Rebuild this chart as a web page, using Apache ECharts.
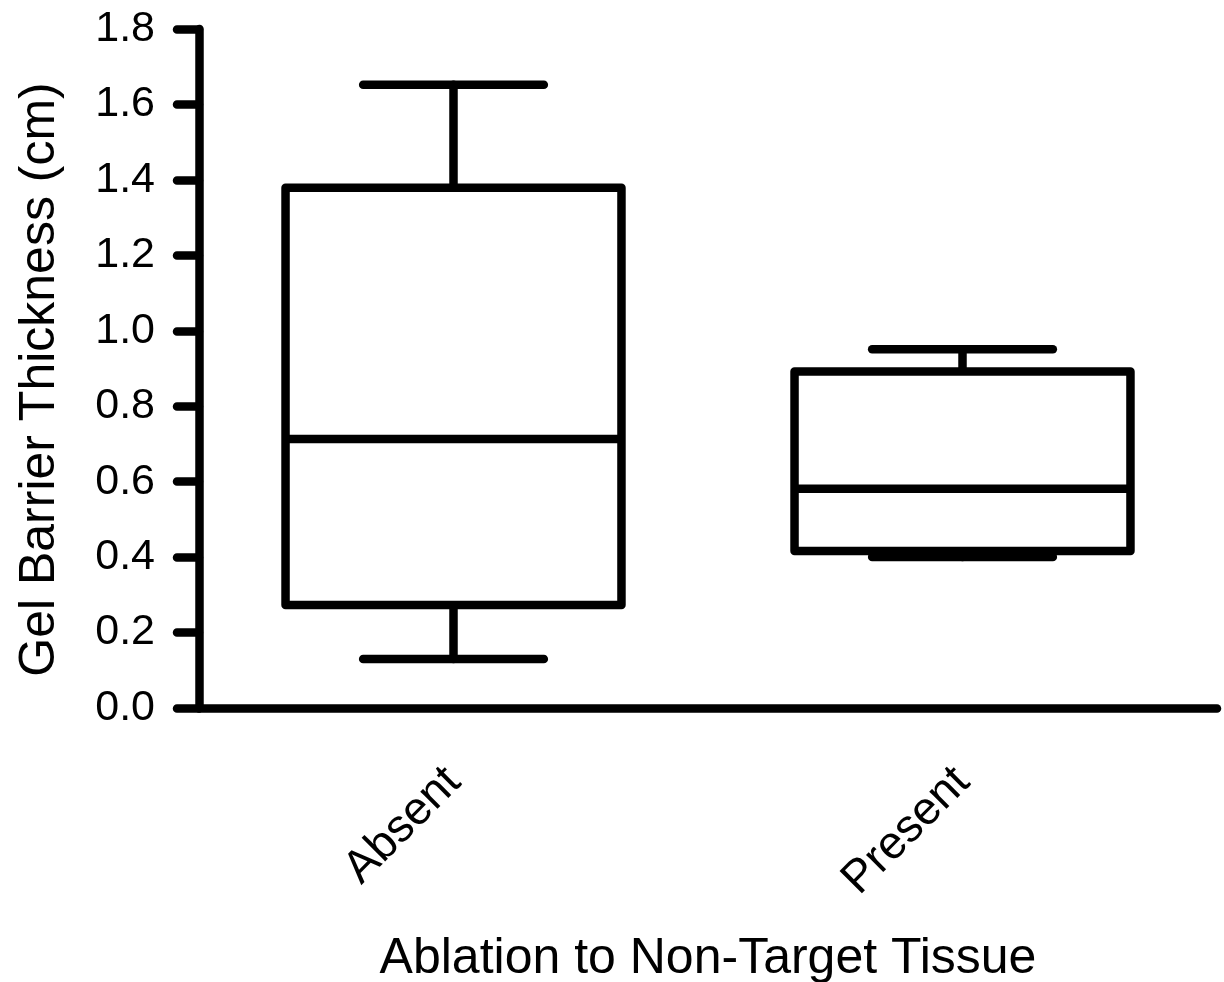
<!DOCTYPE HTML>
<html>
<head>
    <title>Gel Barrier Thickness</title>
    <meta http-equiv="Content-Type" content="text/html; charset=UTF-8"/>
    <script type="text/javascript" src="https://cdn.jsdelivr.net/npm/echarts@6/dist/echarts.min.js"></script>
    <style type="text/css">
        html, body { margin: 0; padding: 0; background: #fff; }
    </style>
</head>
<body>
<div id="main" style="width: 1224px; height: 982px;"></div>
</body>
</html>

<script type="text/javascript">
    // 数据
    var categories = ['Absent', 'Present'];
    var minVals = [0.130, 0.400];
    var q1Vals = [0.273, 0.416];
    var medianVals = [0.713, 0.581];
    var q3Vals = [1.379, 0.892];
    var maxVals = [1.652, 0.951];

    var font = 'Arial, "Liberation Sans", sans-serif';
    var lw = 8.5;

    var boxData = [];
    for (var i = 0; i < categories.length; i++) {
        boxData.push([i, minVals[i], q1Vals[i], medianVals[i], q3Vals[i], maxVals[i]]);
    }

    var myChart = echarts.init(document.getElementById('main'));

    function renderBox(params, api) {
        var idx = api.value(0);
        var band = api.size([1, 0])[0];
        var boxW = band * 0.66;
        var capW = band * 0.355;
        var pMin = api.coord([idx, api.value(1)]);
        var pQ1 = api.coord([idx, api.value(2)]);
        var pMed = api.coord([idx, api.value(3)]);
        var pQ3 = api.coord([idx, api.value(4)]);
        var pMax = api.coord([idx, api.value(5)]);
        var cx = pMed[0];
        var style = {stroke: '#000', lineWidth: lw, fill: null, lineCap: 'round', lineJoin: 'round'};
        return {
            type: 'group',
            children: [
                // 须线
                {type: 'line', shape: {x1: cx, y1: pQ3[1], x2: cx, y2: pMax[1]}, style: style},
                {type: 'line', shape: {x1: cx, y1: pQ1[1], x2: cx, y2: pMin[1]}, style: style},
                {type: 'line', shape: {x1: cx - capW / 2, y1: pMax[1], x2: cx + capW / 2, y2: pMax[1]}, style: style},
                {type: 'line', shape: {x1: cx - capW / 2, y1: pMin[1], x2: cx + capW / 2, y2: pMin[1]}, style: style},
                // 箱体
                {type: 'rect', shape: {x: cx - boxW / 2, y: pQ3[1], width: boxW, height: pQ1[1] - pQ3[1]},
                    style: {stroke: '#000', lineWidth: lw, fill: '#fff', lineJoin: 'round'}},
                // 中位数
                {type: 'line', shape: {x1: cx - boxW / 2, y1: pMed[1], x2: cx + boxW / 2, y2: pMed[1]},
                    style: {stroke: '#000', lineWidth: lw}}
            ]
        };
    }

    var option = {
        backgroundColor: '#fff',
        animation: false,
        grid: {left: 199, right: 7, top: 29, bottom: 274, containLabel: false, outerBoundsMode: 'none'},
        xAxis: {
            type: 'category',
            data: categories,
            name: 'Ablation to Non-Target Tissue',
            nameLocation: 'middle',
            nameGap: 226,
            nameTextStyle: {fontFamily: font, fontSize: 50, color: '#000'},
            axisLine: {lineStyle: {color: '#000', width: lw}},
            axisTick: {alignWithLabel: true, length: 24, lineStyle: {color: '#000', width: lw, cap: 'round'}},
            axisLabel: {rotate: 45, margin: 67, fontFamily: font, fontSize: 46, color: '#000'},
            splitLine: {show: false}
        },
        yAxis: {
            type: 'value',
            min: 0,
            max: 1.8,
            interval: 0.2,
            name: 'Gel Barrier Thickness (cm)',
            nameLocation: 'middle',
            nameRotate: 90,
            nameGap: 134,
            nameTextStyle: {fontFamily: font, fontSize: 50, color: '#000', padding: [0, 22, 0, 0]},
            axisLine: {show: true, lineStyle: {color: '#000', width: lw}},
            axisTick: {show: true, length: 22, lineStyle: {color: '#000', width: lw, cap: 'round'}},
            axisLabel: {
                margin: 44, fontFamily: font, fontSize: 43, color: '#000',
                formatter: function (v) { return v.toFixed(1); }
            },
            splitLine: {show: false}
        },
        series: [{
            type: 'custom',
            renderItem: renderBox,
            encode: {x: 0, y: [1, 2, 3, 4, 5]},
            data: boxData
        }]
    };

    myChart.setOption(option);
</script>
